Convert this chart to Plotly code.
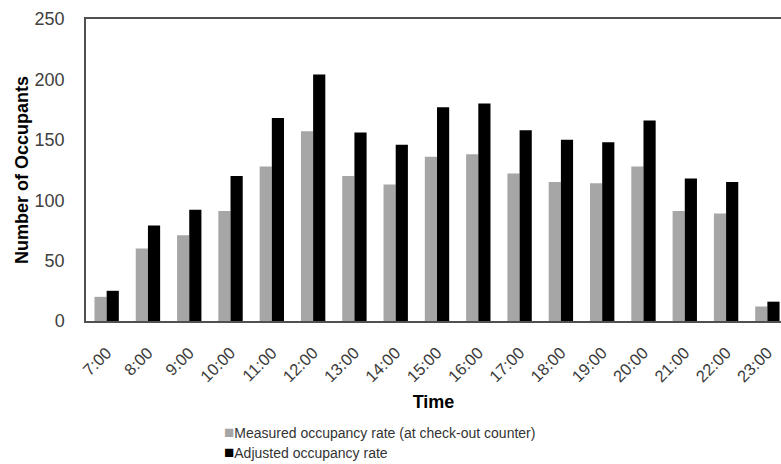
import plotly.graph_objects as go

hours = ["7:00", "8:00", "9:00", "10:00", "11:00", "12:00", "13:00", "14:00", "15:00",
         "16:00", "17:00", "18:00", "19:00", "20:00", "21:00", "22:00", "23:00"]
measured = [20, 60, 71, 91, 128, 157, 120, 113, 136, 138, 122, 115, 114, 128, 91, 89, 12]
adjusted = [25, 79, 92, 120, 168, 204, 156, 146, 177, 180, 158, 150, 148, 166, 118, 115, 16]
y_ticks = [0, 50, 100, 150, 200, 250]

measured_name = "Measured occupancy rate (at check-out counter)"
adjusted_name = "Adjusted occupancy rate"
gray = "#a6a6a6"
black = "#000000"

fig = go.Figure()
fig.add_trace(go.Bar(x=hours, y=measured, name=measured_name, marker_color=gray,
                     marker_line_width=0))
fig.add_trace(go.Bar(x=hours, y=adjusted, name=adjusted_name, marker_color=black,
                     marker_line_width=0))

base_font = "Liberation Sans, Arial, sans-serif"

fig.update_layout(
    width=781, height=464,
    margin=dict(l=86, r=0, t=19, b=143),
    paper_bgcolor="white", plot_bgcolor="white",
    barmode="group", bargap=0.41, bargroupgap=0,
    showlegend=False,
    font=dict(family=base_font, color="#404040", size=17),
    xaxis=dict(
        type="category", range=[-0.5, 16.33],
        showline=True, linecolor="#505050", linewidth=1.5, mirror=True,
        ticks="", tickangle=-45, tickfont=dict(size=16.5, color="#3a3a3a"),
        ticklabelstandoff=14,
        title=dict(text="<b>Time</b>", font=dict(size=18, color="#000000"), standoff=11),
    ),
    yaxis=dict(
        range=[0, 250], tickvals=y_ticks, showgrid=False, zeroline=False,
        showline=True, linecolor="#505050", linewidth=1.5, mirror=False,
        ticks="", tickfont=dict(size=18, color="#404040"), ticklabelstandoff=16,
        title=dict(text="<b>Number of Occupants</b>", font=dict(size=18, color="#000000"),
                   standoff=1),
    ),
)

# legend rows below the axis title
for text, color, ypix in [(measured_name, gray, 432), (adjusted_name, black, 452)]:
    fig.add_annotation(
        xref="paper", yref="paper",
        x=(222 - 86) / 695, y=1 - (ypix - 19) / 302,
        xanchor="left", yanchor="middle", showarrow=False,
        text=f"<span style='color:{color};font-size:17px'>■</span>{text}",
        font=dict(family=base_font, size=14, color="#333333"),
    )

fig.write_html("out.html")
